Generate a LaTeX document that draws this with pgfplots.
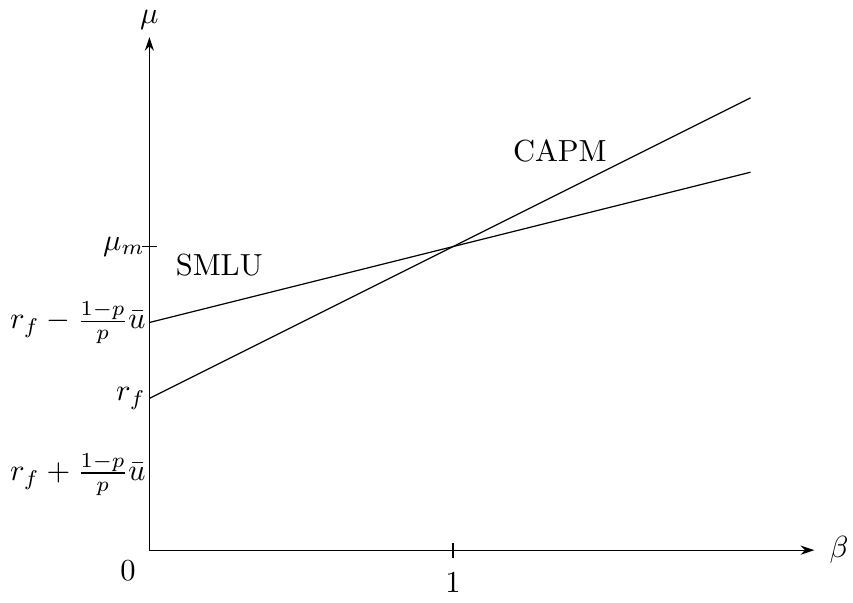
\documentclass[border=0pt]{standalone}
\usepackage{pgfplots}
\pgfplotsset{compat=1.18}
\usetikzlibrary{arrows.meta}
\begin{document}
\begin{tikzpicture}
\begin{axis}[
  x=99.5pt, y=99.5pt,
  xmin=0, xmax=2.19, ymin=0, ymax=1.69,
  axis lines=left,
  axis line style={-{Stealth[length=4.5pt,width=3pt]}},
  tick align=center, major tick length=5pt,
  tick style={black, line width=0.4pt},
  xtick={1}, ytick={1},
  xticklabels={$1$},
  yticklabels={$\mu_m$},
  yticklabel style={xshift=4.5pt},
  extra x ticks={0}, extra x tick labels={$0$},
  extra x tick style={major tick length=0pt, xticklabel style={anchor=north east, yshift=1.3pt, xshift=-1pt}},
  extra y ticks={0.25,0.5,0.75},
  extra y tick labels={$r_f+\frac{1-p}{p}\bar{u}$,$r_f$,$r_f-\frac{1-p}{p}\bar{u}$},
  extra y tick style={major tick length=0pt, yticklabel style={xshift=-2.2pt}},
  xticklabel style={yshift=-1.3pt},
  xlabel={$\beta$}, ylabel={$\mu$},
  xlabel style={at={(axis description cs:1,0)}, anchor=west, inner sep=1.5pt, xshift=3.3pt},
  ylabel style={at={(axis description cs:0,1)}, anchor=south, rotate=-90, inner sep=3.5pt, yshift=-1.3pt},
  clip=false,
]
\addplot[black, no markers] coordinates {(0,0.5) (1,1) (1.98,1.49)};
\addplot[black, no markers] coordinates {(0,0.75) (1,1) (1.98,1.245)};
\node at (axis cs:1.352,1.316) {CAPM};
\node at (axis cs:0.23,0.94) {SMLU};
\end{axis}
\end{tikzpicture}
\end{document}
